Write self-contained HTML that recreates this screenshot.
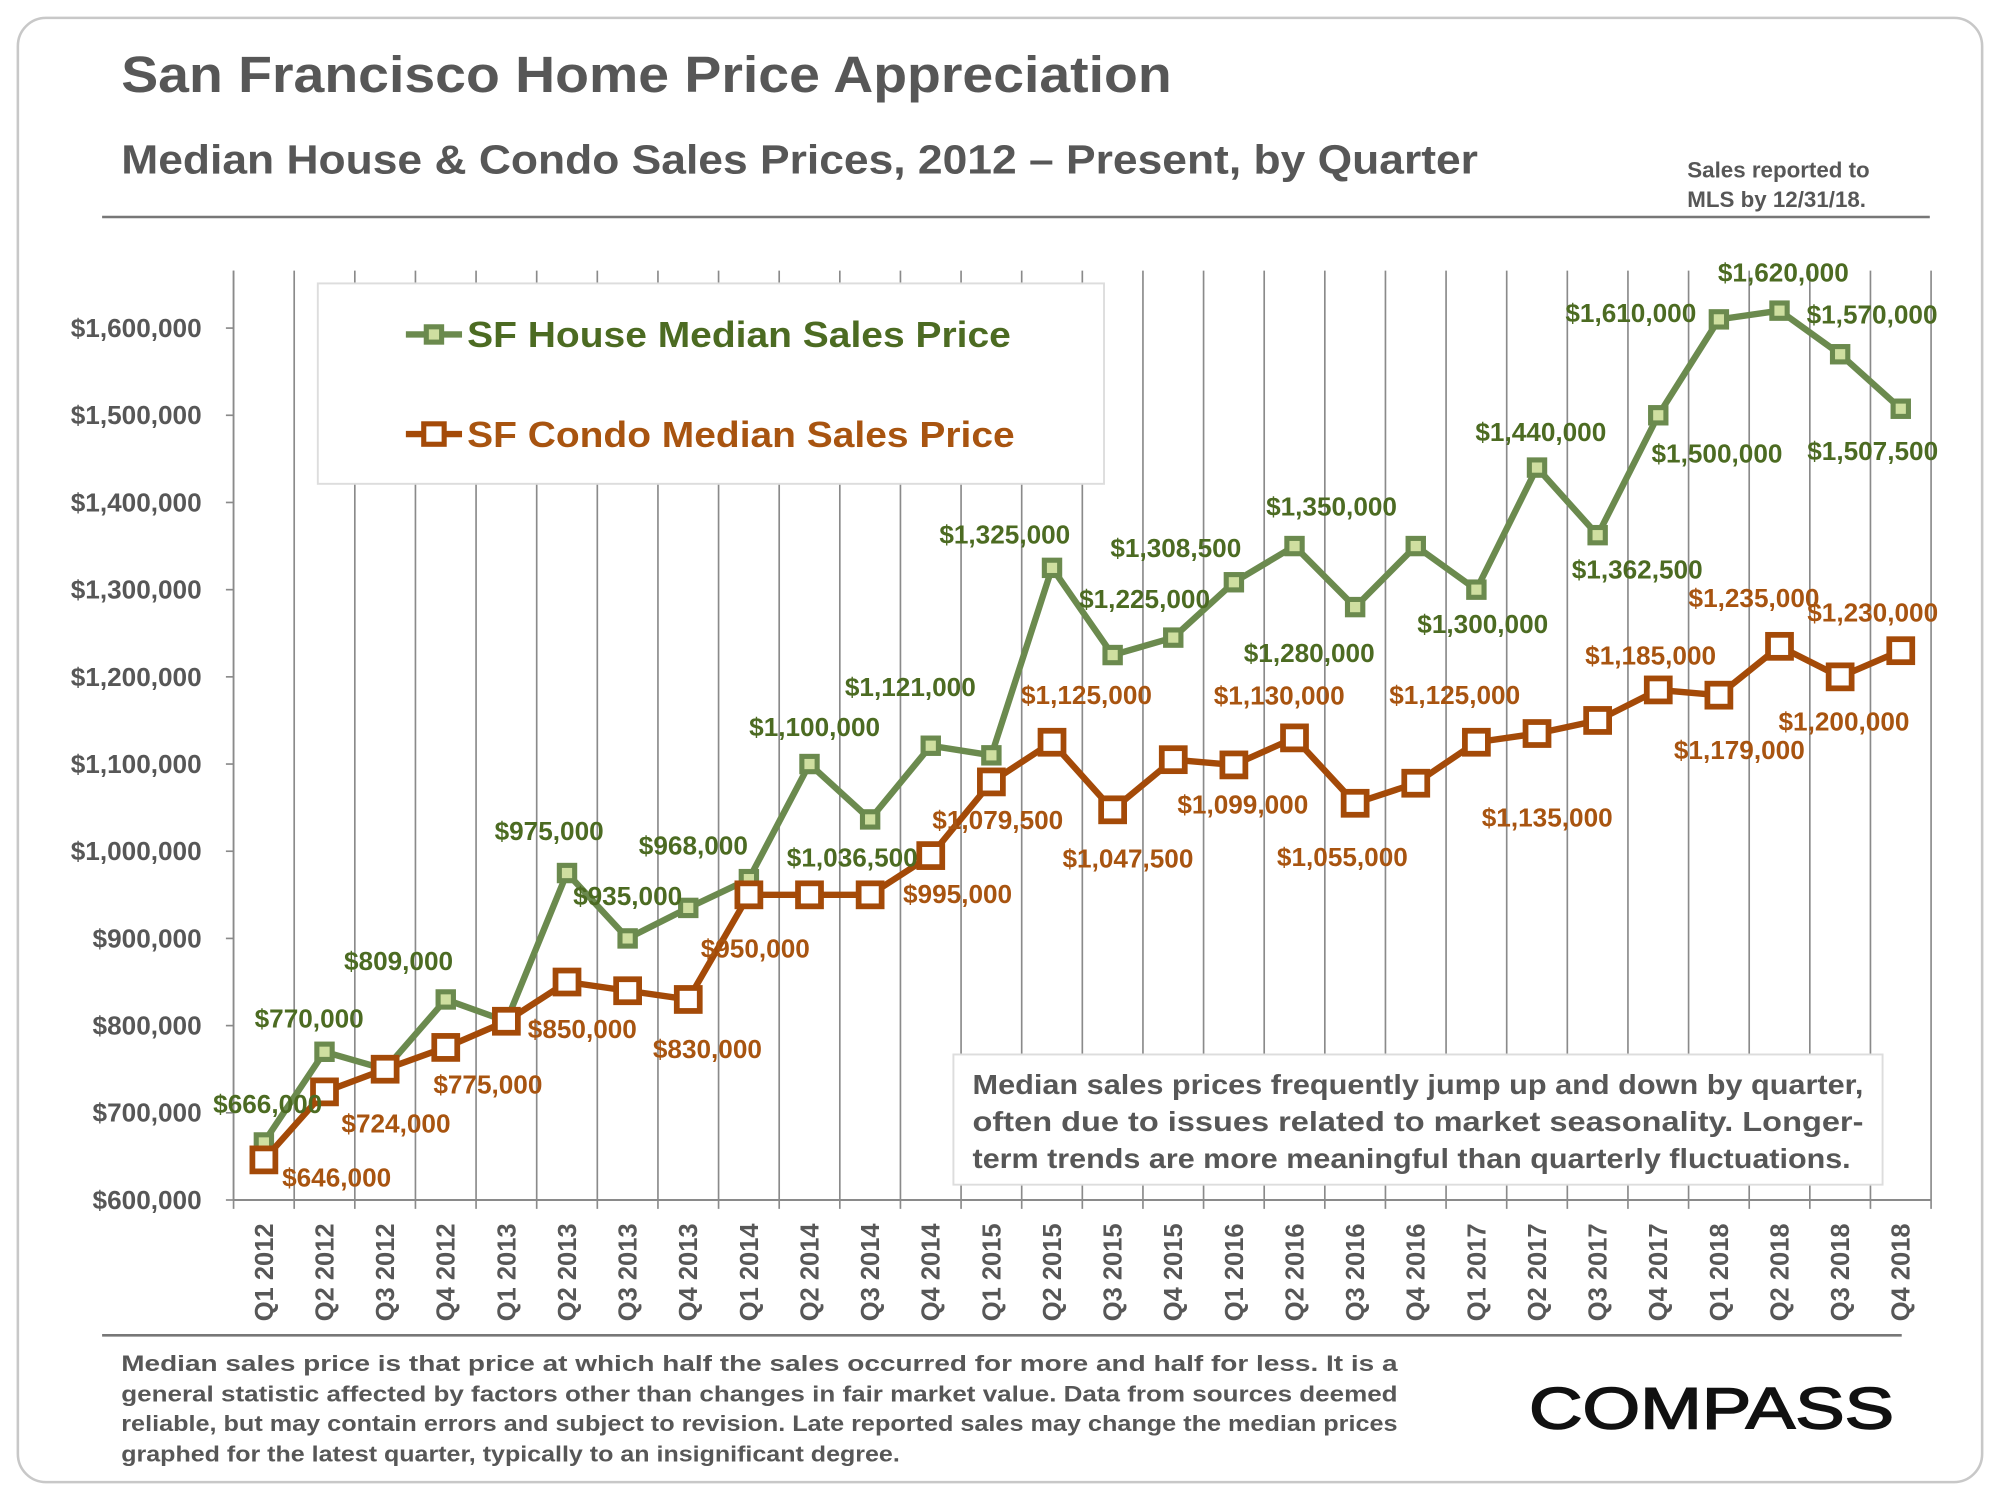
<!DOCTYPE html>
<html><head><meta charset="utf-8"><style>
html,body{margin:0;padding:0;background:#fff;width:2000px;height:1500px;overflow:hidden}
svg{display:block}
text{font-family:"Liberation Sans",Arial,sans-serif;font-weight:bold}
</style></head><body>
<svg id="chart" width="2000" height="1500" viewBox="0 0 1567 1175" preserveAspectRatio="none">
<rect x="14" y="14" width="1539" height="1147" rx="22" fill="#fff" stroke="#c8c8c8" stroke-width="2"/>
<text x="95" y="72" font-size="40" fill="#575757" textLength="823" lengthAdjust="spacingAndGlyphs">San Francisco Home Price Appreciation</text>
<text x="95" y="136" font-size="32" fill="#575757" textLength="1063" lengthAdjust="spacingAndGlyphs">Median House &amp; Condo Sales Prices, 2012 – Present, by Quarter</text>
<text x="1322" y="139" font-size="17.5" fill="#575757">Sales reported to</text>
<text x="1322" y="162" font-size="17.5" fill="#575757">MLS by 12/31/18.</text>
<line x1="80" y1="170" x2="1512" y2="170" stroke="#777" stroke-width="2"/>
<g id="grid"></g>
<g id="yaxis"></g>
<g id="xaxis"></g>
<rect x="249" y="222" width="616" height="157" fill="#fff" stroke="#ddd" stroke-width="1.5"/>
<g>
<line x1="318" y1="262" x2="362" y2="262" stroke="#6b8a4e" stroke-width="5"/>
<rect x="334" y="256" width="12" height="12" fill="#cfdfa0" stroke="#6b8a4e" stroke-width="4"/>
<text x="366" y="272" font-size="28" fill="#4c6b22" textLength="426" lengthAdjust="spacingAndGlyphs">SF House Median Sales Price</text></g>
<g>
<line x1="318" y1="340" x2="362" y2="340" stroke="#a44a08" stroke-width="5"/>
<rect x="332" y="332" width="16" height="16" fill="#fff" stroke="#a44a08" stroke-width="4"/>
<text x="366" y="350" font-size="28" fill="#a85410" textLength="429" lengthAdjust="spacingAndGlyphs">SF Condo Median Sales Price</text></g>
<rect x="747" y="826" width="728" height="102" fill="#fff" stroke="#ddd" stroke-width="1.5"/>
<g font-size="22" fill="#575757">
<text x="762" y="857" textLength="698" lengthAdjust="spacingAndGlyphs">Median sales prices frequently jump up and down by quarter,</text>
<text x="762" y="886" textLength="698" lengthAdjust="spacingAndGlyphs">often due to issues related to market seasonality. Longer-</text>
<text x="762" y="915" textLength="688" lengthAdjust="spacingAndGlyphs">term trends are more meaningful than quarterly fluctuations.</text></g>
<g id="series"></g>
<line x1="80" y1="1046" x2="1490" y2="1046" stroke="#777" stroke-width="2"/>
<g font-size="17.5" fill="#575757">
<text x="95" y="1074" textLength="1000" lengthAdjust="spacingAndGlyphs">Median sales price is that price at which half the sales occurred for more and half for less. It is a</text>
<text x="95" y="1098" textLength="1000" lengthAdjust="spacingAndGlyphs">general statistic affected by factors other than changes in fair market value. Data from sources deemed</text>
<text x="95" y="1121" textLength="1000" lengthAdjust="spacingAndGlyphs">reliable, but may contain errors and subject to revision. Late reported sales may change the median prices</text>
<text x="95" y="1145" textLength="610" lengthAdjust="spacingAndGlyphs">graphed for the latest quarter, typically to an insignificant degree.</text></g>
<text x="1198" y="1119" font-size="46" fill="#111" stroke="#111" stroke-width="1.2" textLength="286" lengthAdjust="spacingAndGlyphs" style="font-weight:normal">COMPASS</text>
</svg>
<script>
const categories=["Q1 2012","Q2 2012","Q3 2012","Q4 2012","Q1 2013","Q2 2013","Q3 2013","Q4 2013","Q1 2014","Q2 2014","Q3 2014","Q4 2014","Q1 2015","Q2 2015","Q3 2015","Q4 2015","Q1 2016","Q2 2016","Q3 2016","Q4 2016","Q1 2017","Q2 2017","Q3 2017","Q4 2017","Q1 2018","Q2 2018","Q3 2018","Q4 2018"];
const houseValues=[666000,770000,750000,830000,805000,975000,900000,935000,968000,1100000,1036500,1121000,1110000,1325000,1225000,1245000,1308500,1350000,1280000,1350000,1300000,1440000,1362500,1500000,1610000,1620000,1570000,1507500];
const condoValues=[646000,724000,750000,775000,805000,850000,840000,830000,950000,950000,950000,995000,1079500,1125000,1047500,1105000,1099000,1130000,1055000,1078000,1125000,1135000,1150000,1185000,1179000,1235000,1200000,1230000];
const yTicks=[600000,700000,800000,900000,1000000,1100000,1200000,1300000,1400000,1500000,1600000];
const yTickLabels=["$600,000","$700,000","$800,000","$900,000","$1,000,000","$1,100,000","$1,200,000","$1,300,000","$1,400,000","$1,500,000","$1,600,000"];
const houseLabels=[[0,"$666,000",3,-30],[1,"$770,000",-12,-26],[3,"$809,000",-37,-30],[5,"$975,000",-14,-33],[6,"$935,000",0,-33],[7,"$968,000",4,-49],[9,"$1,100,000",4,-29],[10,"$1,036,500",-14,30],[11,"$1,121,000",-16,-46],[13,"$1,325,000",-37,-26],[14,"$1,225,000",25,-44],[15,"$1,308,500",2,-70],[17,"$1,350,000",29,-31],[18,"$1,280,000",-36,36],[20,"$1,300,000",5,27],[21,"$1,440,000",3,-28],[22,"$1,362,500",31,27],[23,"$1,500,000",46,30],[24,"$1,610,000",-69,-5],[25,"$1,620,000",3,-30],[26,"$1,570,000",25,-31],[27,"$1,507,500",-22,33]];
const condoLabels=[[0,"$646,000",57,14],[1,"$724,000",56,25],[3,"$775,000",33,29],[5,"$850,000",12,37],[7,"$830,000",15,39],[8,"$950,000",5,42],[11,"$995,000",21,30],[12,"$1,079,500",5,30],[13,"$1,125,000",27,-37],[14,"$1,047,500",12,38],[16,"$1,099,000",7,31],[17,"$1,130,000",-12,-33],[18,"$1,055,000",-10,42],[20,"$1,125,000",-17,-37],[21,"$1,135,000",8,66],[23,"$1,185,000",-6,-27],[24,"$1,179,000",16,43],[25,"$1,235,000",-20,-38],[26,"$1,200,000",3,35],[27,"$1,230,000",-22,-30]];
const NS="http://www.w3.org/2000/svg";
const X0=183,STEP=47.5,YB=940,YT=212,YMIN=600000,PX=0.000683;
const xPos=i=>X0+STEP*(i+0.5);
const yPos=v=>YB-(v-YMIN)*PX;
function mk(tag,parent,attrs){const e=document.createElementNS(NS,tag);for(const k in attrs)e.setAttribute(k,attrs[k]);parent.appendChild(e);return e;}
const grid=document.getElementById('grid'),ya=document.getElementById('yaxis'),xa=document.getElementById('xaxis'),ser=document.getElementById('series');
for(let k=0;k<=categories.length;k++){const x=X0+STEP*k;
 const l=mk('line',grid,{x1:x,y1:YT,x2:x,y2:YB+7,stroke:'#8a8a8a','stroke-width':1.3});
 
 }
mk('line',ya,{x1:X0,y1:YT,x2:X0,y2:YB,stroke:'#8a8a8a','stroke-width':1.3});
yTicks.forEach((v,i)=>{const y=yPos(v);
 mk('line',ya,{x1:X0-6,y1:y,x2:X0,y2:y,stroke:'#8a8a8a','stroke-width':1.3});
 const t=mk('text',ya,{x:158,y:y+7,'font-size':20.5,fill:'#575757','text-anchor':'end'});t.textContent=yTickLabels[i];
 
 });
mk('line',xa,{x1:X0,y1:YB,x2:X0+STEP*categories.length,y2:YB,stroke:'#8a8a8a','stroke-width':1.5});
categories.forEach((c,i)=>{const x=xPos(i)+7;
 const t=mk('text',xa,{x:x,y:1035,'font-size':20,fill:'#575757',transform:`rotate(-90 ${x} 1035)`});t.textContent=c;
 
 });
function drawSeries(vals,color,fill,size,sw,name){
 const g=mk('g',ser,{});
 
 
 mk('polyline',g,{points:vals.map((v,i)=>xPos(i)+','+yPos(v)).join(' '),fill:'none',stroke:color,'stroke-width':5,'stroke-linejoin':'round'});
 vals.forEach((v,i)=>{const r=mk('rect',g,{x:xPos(i)-size/2,y:yPos(v)-size/2,width:size,height:size,fill:fill,stroke:color,'stroke-width':sw});
  
  });
}
function drawLabels(vals,labels,color,name){
 labels.forEach(([i,txt,dx,dy])=>{const t=mk('text',ser,{x:xPos(i)+dx,y:yPos(vals[i])+dy+7,'font-size':20.5,fill:color,'text-anchor':'middle'});t.textContent=txt;
  
  });
}
drawSeries(houseValues,'#6b8a4e','#cfdfa0',12,4,'house-series');
drawSeries(condoValues,'#a44a08','#fff',18,4.5,'condo-series');
drawLabels(houseValues,houseLabels,'#4c6b22','house-value-label');
drawLabels(condoValues,condoLabels,'#a85410','condo-value-label');
</script>
</body></html>
